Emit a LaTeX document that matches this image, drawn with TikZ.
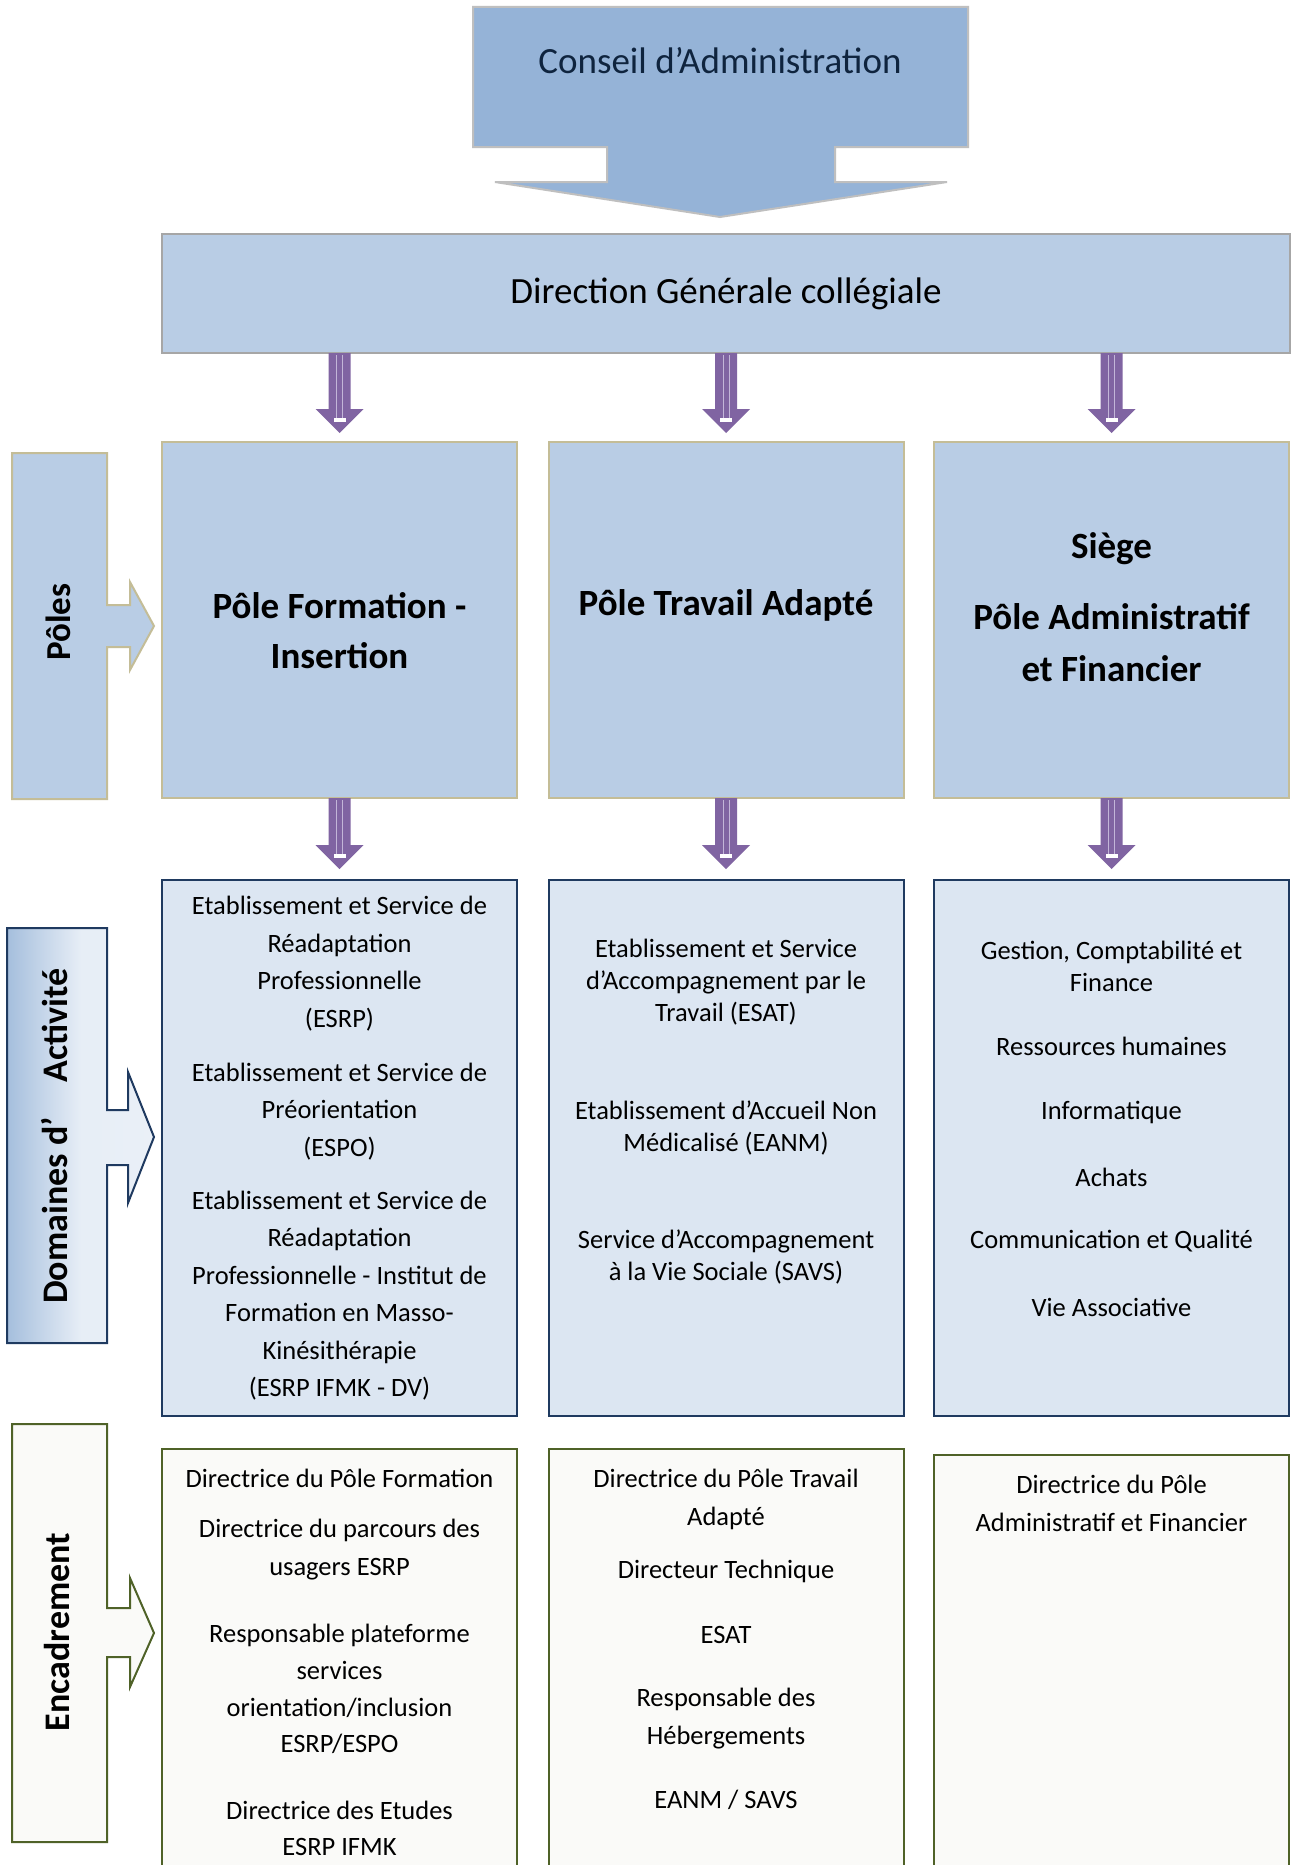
\documentclass[tikz,border=0pt]{standalone}
\usepackage{fontspec}
\setmainfont{Carlito}
\usetikzlibrary{calc}
\definecolor{cafill}{HTML}{95B3D7}
\definecolor{cagray}{HTML}{BFBFBF}
\definecolor{catext}{HTML}{0F243E}
\definecolor{lblue}{HTML}{B9CDE5}
\definecolor{tanc}{HTML}{C4BD97}
\definecolor{pale}{HTML}{DCE6F2}
\definecolor{navy}{HTML}{1F3A60}
\definecolor{offw}{HTML}{FAFAF8}
\definecolor{olive}{HTML}{4F6228}
\definecolor{purp}{HTML}{8064A2}
\definecolor{purpl}{HTML}{C3B6D8}
\definecolor{dggray}{HTML}{A6A6A6}
\tikzset{
  box/.style={rectangle, inner sep=0pt, outer sep=0pt, line width=2pt},
  polebox/.style={box, fill=lblue, draw=tanc, minimum width=355pt, minimum height=356pt},
  dombox/.style={box, fill=pale, draw=navy, minimum width=355pt, minimum height=536pt},
  encbox/.style={box, fill=offw, draw=olive, minimum width=355pt},
  txt/.style={align=center, inner sep=0pt, font=\fontsize{26.5}{37.5}\selectfont},
  txtb/.style={align=center, inner sep=0pt, font=\fontsize{26.5}{32}\selectfont},
  txte/.style={align=center, inner sep=0pt, font=\fontsize{26.5}{38}\selectfont},
  poletxt/.style={align=center, inner sep=0pt, font=\bfseries\fontsize{37}{50}\selectfont},
  sidetxt/.style={rotate=90, inner sep=0pt, font=\bfseries\fontsize{36}{40}\selectfont},
}
\newcommand\purarrow[2]{%
  \fill[purp] let \p1=(#1), \p2=(#2) in
    (\x1-11pt,\y1) -- (\x1+11pt,\y1) -- (\x1+11pt,\y2+24pt) -- (\x1+24pt,\y2+24pt)
    -- (\x1,\y2) -- (\x1-24pt,\y2+24pt) -- (\x1-11pt,\y2+24pt) -- cycle;
  \draw[purpl, line width=0.8pt] let \p1=(#1), \p2=(#2) in
    (\x1-3pt,\y1-2pt) -- (\x1-3pt,\y2+14pt) (\x1+3pt,\y1-2pt) -- (\x1+3pt,\y2+14pt);
  \fill[white] let \p1=(#1), \p2=(#2) in
    (\x1-6pt,\y2+11pt) rectangle (\x1+6pt,\y2+15pt);
}
\begin{document}
\begin{tikzpicture}[x=1pt, y=-1pt]
\useasboundingbox (0,0) rectangle (1295,1865);
\clip (0,0) rectangle (1295,1865);
\fill[white] (0,0) rectangle (1295,1865);

% Conseil d'Administration (down arrow callout)
\draw[fill=cafill, draw=cagray, line width=2pt]
  (473,7) -- (968,7) -- (968,147) -- (835,147) -- (835,182) -- (947,182)
  -- (720,217) -- (495,182) -- (607,182) -- (607,147) -- (473,147) -- cycle;
\node[font=\fontsize{37}{44}\selectfont, text=catext] (ca) at (720,61) {Conseil d’Administration};

% Direction generale
\node[box, fill=lblue, draw=dggray, minimum width=1128pt, minimum height=119pt,
      font=\fontsize{37}{44}\selectfont] (dg) at (726,293.5) {Direction Générale collégiale};

% Poles
\node[polebox] (p1) at (339.5,620) {};
\node[polebox] (p2) at (726,620) {};
\node[polebox] (p3) at (1111.5,620) {};
\node[poletxt] (p1t) at (339.5,631) {Pôle Formation -\\Insertion};
\node[poletxt] (p2t) at (726,605) {Pôle Travail Adapté};
\node[poletxt] (p3a) at (1111.5,549) {Siège};
\node[poletxt, font=\bfseries\fontsize{37}{52}\selectfont] (p3t) at (1111.5,643) {Pôle Administratif\\et Financier};

% Domaines
\node[dombox] (d1) at (339.5,1148) {};
\node[dombox] (d2) at (726,1148) {};
\node[dombox] (d3) at (1111.5,1148) {};

\node[txt] (d1a) at (339.5,963.5) {Etablissement et Service de\\Réadaptation\\Professionnelle\\(ESRP)};
\node[txt] (d1b) at (339.5,1111.5) {Etablissement et Service de\\Préorientation\\(ESPO)};
\node[txt] (d1c) at (339.5,1295.5) {Etablissement et Service de\\Réadaptation\\Professionnelle - Institut de\\Formation en Masso-\\Kinésithérapie\\(ESRP IFMK - DV)};

\node[txtb] (d2a) at (726,982) {Etablissement et Service\\d’Accompagnement par le\\Travail (ESAT)};
\node[txtb] (d2b) at (726,1128) {Etablissement d’Accueil Non\\Médicalisé (EANM)};
\node[txtb] (d2c) at (726,1257) {Service d’Accompagnement\\à la Vie Sociale (SAVS)};

\node[txtb] (d3a) at (1111.5,966) {Gestion, Comptabilité et\\Finance};
\node[txtb] (d3b) at (1111.5,1046) {Ressources humaines};
\node[txtb] (d3c) at (1111.5,1112) {Informatique};
\node[txtb] (d3d) at (1111.5,1177) {Achats};
\node[txtb] (d3e) at (1111.5,1241) {Communication et Qualité};
\node[txtb] (d3f) at (1111.5,1307) {Vie Associative};

% Encadrement
\node[encbox, minimum height=431pt] (e1) at (339.5,1664.5) {};
\node[encbox, minimum height=431pt] (e2) at (726,1664.5) {};
\node[encbox, minimum height=425pt] (e3) at (1111.5,1667.5) {};

\node[txte] (e1a) at (339.5,1478) {Directrice du Pôle Formation};
\node[txte] (e1b) at (339.5,1549.5) {Directrice du parcours des\\usagers ESRP};
\node[txte, font=\fontsize{26.5}{36.7}\selectfont] (e1c) at (339.5,1689) {Responsable plateforme\\services\\orientation/inclusion\\ESRP/ESPO};
\node[txte, font=\fontsize{26.5}{36}\selectfont] (e1d) at (339.5,1828) {Directrice des Etudes\\ESRP IFMK};

\node[txte] (e2a) at (726,1499) {Directrice du Pôle Travail\\Adapté};
\node[txte] (e2b) at (726,1571) {Directeur Technique};
\node[txte] (e2c) at (726,1635) {ESAT};
\node[txte] (e2d) at (726,1718.5) {Responsable des\\Hébergements};
\node[txte] (e2e) at (726,1800) {EANM / SAVS};

\node[txte] (e3a) at (1111.5,1503) {Directrice du Pôle\\Administratif et Financier};

% purple arrows
\purarrow{dg.south -| p1.north}{$(p1.north)+(0,-9)$}
\purarrow{dg.south -| p2.north}{$(p2.north)+(0,-9)$}
\purarrow{dg.south -| p3.north}{$(p3.north)+(0,-9)$}
\purarrow{p1.south}{$(d1.north)+(0,-11)$}
\purarrow{p2.south}{$(d2.north)+(0,-11)$}
\purarrow{p3.south}{$(d3.north)+(0,-11)$}

% side labels
\draw[fill=lblue, draw=tanc, line width=2pt]
  (12,453) -- (107,453) -- (107,605) -- (130,605) -- (130,582) -- (154,626)
  -- (130,670) -- (130,647) -- (107,647) -- (107,799) -- (12,799) -- cycle;
\node[sidetxt, font=\bfseries\fontsize{35}{40}\selectfont] (lpoles) at (58,622) {Pôles};

\path[draw=navy, line width=2pt, left color=cafill!85, right color=pale!60, middle color=pale!70!white]
  (7,928) -- (107,928) -- (107,1110) -- (128,1110) -- (128,1072) -- (154,1137)
  -- (128,1203) -- (128,1165) -- (107,1165) -- (107,1343) -- (7,1343) -- cycle;
\node[sidetxt] (ldom) at (55,1136) {Domaines d’\hspace{35pt}Activité};

\draw[fill=offw, draw=olive, line width=2pt]
  (12,1424) -- (107,1424) -- (107,1608) -- (130,1608) -- (130,1578) -- (154,1633)
  -- (130,1687) -- (130,1657) -- (107,1657) -- (107,1842) -- (12,1842) -- cycle;
\node[sidetxt] (lenc) at (57,1632) {Encadrement};
\end{tikzpicture}
\end{document}
